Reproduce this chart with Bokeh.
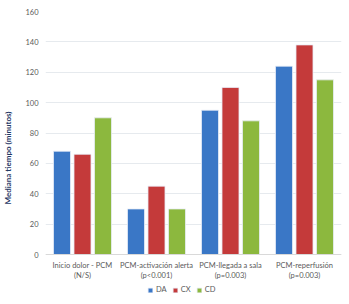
from bokeh.plotting import figure
from bokeh.models import ColumnDataSource, Range1d, Legend, LegendItem, FactorRange
from bokeh.transform import dodge
from bokeh.embed import file_html
from bokeh.resources import INLINE

categories = ["Inicio dolor - PCM\n(N/S)", "PCM-activación alerta\n(p<0.001)",
              "PCM-llegada a sala\n(p=0.003)", "PCM-reperfusión\n(p=0.003)"]
series_names = ["DA", "CX", "CD"]
da = [68, 30, 95, 124]
cx = [66, 45, 110, 138]
cd = [90, 30, 88, 115]
colors = ["#3a77c6", "#c43a3a", "#8cb83e"]
y_ticks = [0, 20, 40, 60, 80, 100, 120, 140, 160]

source = ColumnDataSource(data=dict(cat=categories, DA=da, CX=cx, CD=cd))

# frame: 243 px for 0..160, extended below 0 to make room for labels + legend
px_per_unit = 243 / 160.0
frame_h = 293
y_start = 160 - frame_h / px_per_unit

p = figure(x_range=FactorRange(*categories, range_padding=0), y_range=Range1d(y_start, 160),
           frame_width=296, frame_height=frame_h, output_backend="svg", toolbar_location=None,
           min_border_left=43, min_border_right=10, min_border_top=11, min_border_bottom=0)

renderers = []
offsets = [-0.277, 0.0, 0.277]
for name, col, off in zip(series_names, colors, offsets):
    r = p.vbar(x=dodge("cat", off, range=p.x_range), top=name, bottom=0, width=0.23,
               source=source, fill_color=col, line_color="#e8eef7", line_width=0.8)
    renderers.append(r)

p.outline_line_color = None
p.background_fill_color = "white"
p.border_fill_color = "white"
p.xgrid.grid_line_color = None
p.ygrid.grid_line_color = "#e6eaee"
p.ygrid.grid_line_width = 1
p.ygrid.ticker = y_ticks

p.yaxis.ticker = y_ticks
p.yaxis.axis_line_color = None
p.yaxis.major_tick_line_color = None
p.yaxis.minor_tick_line_color = None
p.yaxis.major_tick_out = 0
p.yaxis.minor_tick_out = 0
p.yaxis.major_label_text_font = "Lato"
p.yaxis.major_label_text_font_size = "7.5px"
p.yaxis.major_label_text_color = "#5a5a5a"
p.yaxis.major_label_standoff = 7
p.yaxis.axis_label = "Mediana tiempo (minutos)"
p.yaxis.axis_label_text_font = "Lato"
p.yaxis.axis_label_text_font_size = "8px"
p.yaxis.axis_label_text_font_style = "bold"
p.yaxis.axis_label_text_color = "#1f3864"
p.yaxis.axis_label_standoff = 9

p.xaxis.fixed_location = 0
p.xaxis.axis_label = None
p.xaxis.axis_line_color = "#d9d9d9"
p.xaxis.major_tick_line_color = None
p.xaxis.minor_tick_line_color = None
p.xaxis.major_tick_out = 0
p.xaxis.minor_tick_out = 0
p.xaxis.major_label_text_font = "Lato"
p.xaxis.major_label_text_font_size = "7.5px"
p.xaxis.major_label_text_color = "#5a5a5a"
p.xaxis.major_label_standoff = 6

legend = Legend(items=[LegendItem(label=n, renderers=[r]) for n, r in zip(series_names, renderers)],
                orientation="horizontal", location=(102, 10))
legend.border_line_color = None
legend.background_fill_alpha = 0
legend.label_text_font = "Lato"
legend.label_text_font_size = "7.5px"
legend.label_text_color = "#5a5a5a"
legend.glyph_width = 6
legend.glyph_height = 6
legend.label_standoff = 3
legend.label_width = 10
legend.spacing = 5
legend.padding = 0
legend.margin = 0
legend.label_height = 8
p.add_layout(legend, "center")

open("out.html", "w").write(file_html(p, INLINE))
